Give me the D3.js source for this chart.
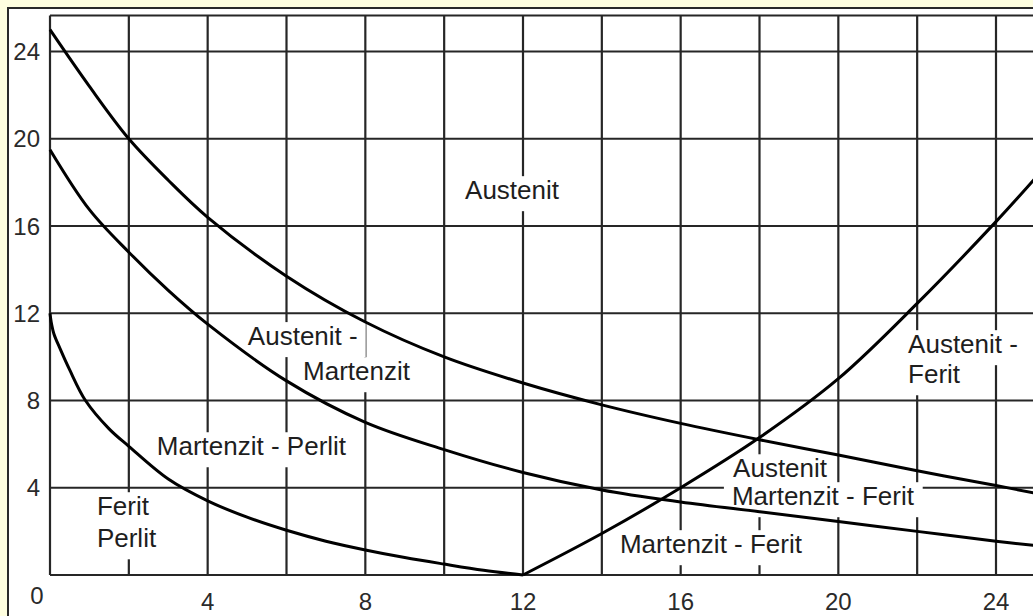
<!DOCTYPE html>
<html>
<head>
<meta charset="utf-8">
<script src="https://cdn.jsdelivr.net/npm/d3@7"></script>
<style>
  html, body { margin: 0; padding: 0; background: #ffffe0; }
  svg { display: block; }
  text { font-family: "Liberation Sans", Arial, Helvetica, sans-serif; }
</style>
</head>
<body>
<svg id="chart" width="1033" height="616"></svg>
<script>
// Grid positions (x every 2 units, y every 4 units)
const xGrid = [0, 2, 4, 6, 8, 10, 12, 14, 16, 18, 20, 22, 24];
const yGrid = [0, 4, 8, 12, 16, 20, 24];

// Tick labels
const xTickLabels = [0, 4, 8, 12, 16, 20, 24];
const yTickLabels = [4, 8, 12, 16, 20, 24];

// Phase boundaries [x, y]
const austenitLine = [
  [0, 25], [1, 22.4], [2, 20], [3, 18.1], [4, 16.4], [6, 13.7], [8, 11.6],
  [10, 10.0], [12, 8.8], [14, 7.8], [16, 6.95], [18, 6.2], [20, 5.5],
  [22, 4.78], [24, 4.1], [25, 3.75]
];
const martenzitLine = [
  [0, 19.5], [1, 16.75], [2, 14.8], [3, 13.05], [4, 11.5], [6, 8.9], [8, 7.0],
  [10, 5.75], [12, 4.7], [14, 3.9], [16, 3.35], [18, 2.9], [20, 2.45],
  [22, 2.0], [24, 1.55], [25, 1.35]
];
const perlitLine = [
  [0, 12], [0.03, 11.6], [0.1, 11.05], [0.25, 10.4], [0.5, 9.4], [0.9, 8.0],
  [1.5, 6.7], [2, 5.9], [3, 4.4], [4, 3.4], [5, 2.65], [6, 2.05], [7, 1.55],
  [8, 1.15], [9, 0.8], [10, 0.5], [11, 0.22], [12, 0]
];
const feritLine = [
  [12, 0], [14, 1.9], [16, 4.0], [18, 6.3], [20, 9.0], [22, 12.45],
  [24, 16.2], [25, 18.2]
];

// Region names (left edge / baseline, in diagram units)
const regionLabels = [
  { text: "Austenit",          x: 10.53, y: 17.23 },
  { text: "Austenit -",        x: 5.02,  y: 10.54 },
  { text: "Martenzit",         x: 6.42,  y: 8.93 },
  { text: "Martenzit - Perlit", x: 2.71, y: 5.49 },
  { text: "Ferit",             x: 1.19,  y: 2.74 },
  { text: "Perlit",            x: 1.19,  y: 1.27 },
  { text: "Martenzit - Ferit", x: 14.46, y: 1.0 },
  { text: "Austenit",          x: 17.33, y: 4.48 },
  { text: "Martenzit - Ferit", x: 17.3,  y: 3.2 },
  { text: "Austenit -",        x: 21.77, y: 10.17 },
  { text: "Ferit",             x: 21.77, y: 8.79 }
];

const svg = d3.select("#chart");
const W = 1033, H = 616;

const x = d3.scaleLinear().domain([0, 24]).range([50, 996]);
const y = d3.scaleLinear().domain([0, 24]).range([575, 51.5]);
const yTop = 25.65;      // upper frame of the diagram
const xRight = 25.6;     // diagram runs past the right edge

// white sheet with a dark border
svg.append("rect")
  .attr("x", 8).attr("y", 8)
  .attr("width", W + 20).attr("height", H + 20)
  .attr("fill", "#ffffff")
  .attr("stroke", "#2a2a2a")
  .attr("stroke-width", 2);

const gridG = svg.append("g")
  .attr("stroke", "#262626")
  .attr("stroke-width", 2.2)
  .attr("fill", "none");

gridG.selectAll("line.v")
  .data(xGrid)
  .join("line")
  .attr("class", "v")
  .attr("x1", d => x(d)).attr("x2", d => x(d))
  .attr("y1", y(0)).attr("y2", y(yTop));

gridG.selectAll("line.h")
  .data(yGrid.concat([yTop]))
  .join("line")
  .attr("class", "h")
  .attr("x1", x(0)).attr("x2", x(xRight))
  .attr("y1", d => y(d)).attr("y2", d => y(d));

const knockG = svg.append("g");
const curveG = svg.append("g");
const labelG = svg.append("g");

const line = d3.line()
  .x(d => x(d[0]))
  .y(d => y(d[1]))
  .curve(d3.curveCatmullRom.alpha(0.5));

curveG.selectAll("path")
  .data([austenitLine, martenzitLine, perlitLine, feritLine])
  .join("path")
  .attr("d", line)
  .attr("fill", "none")
  .attr("stroke", "#000")
  .attr("stroke-width", 3)
  .attr("stroke-linejoin", "round");

// region names
const labels = labelG.selectAll("text")
  .data(regionLabels)
  .join("text")
  .attr("x", d => x(d.x))
  .attr("y", d => y(d.y))
  .attr("font-size", 26)
  .attr("fill", "#1e1e1e")
  .text(d => d.text);

// blank out the grid behind each name
labels.each(function () {
  const b = this.getBBox();
  knockG.append("rect")
    .attr("x", b.x - 8)
    .attr("y", b.y + 1)
    .attr("width", b.width + 16)
    .attr("height", b.height + 5)
    .attr("fill", "#ffffff");
});

// axis numbers
const tickG = svg.append("g")
  .attr("font-size", 24)
  .attr("fill", "#2a2a2a");

tickG.selectAll("text.y")
  .data(yTickLabels)
  .join("text")
  .attr("class", "y")
  .attr("x", 40)
  .attr("y", d => y(d))
  .attr("dy", "0.36em")
  .attr("text-anchor", "end")
  .text(d => d);

tickG.selectAll("text.x")
  .data(xTickLabels)
  .join("text")
  .attr("class", "x")
  .attr("x", d => d === 0 ? x(d) - 13 : x(d))
  .attr("y", d => d === 0 ? 604 : 610)
  .attr("text-anchor", "middle")
  .text(d => d);
</script>
</body>
</html>
